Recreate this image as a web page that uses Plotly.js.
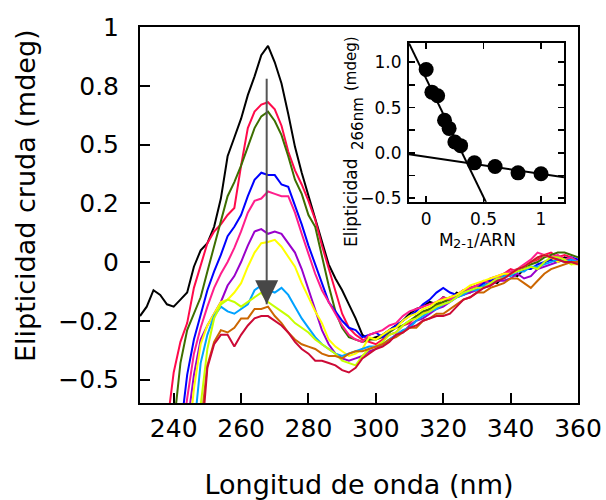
<!DOCTYPE html>
<html><head><meta charset="utf-8">
<script src="https://cdn.plot.ly/plotly-3.0.1.min.js"></script>
<style>html,body{margin:0;padding:0;background:#fff}#chart{width:606px;height:500px}</style>
</head><body><div id="chart"></div>
<script>
// ---- Main CD spectra (wavelength in nm, ellipticity in mdeg) ----
const wavelength = [230,232,234,236,238,240,242,244,246,248,250,252,254,256,258,260,262,264,266,268,270,272,274,276,278,280,282,284,286,288,290,292,294,296,298,300,302,304,306,308,310,312,314,316,318,320,322,324,326,328,330,332,334,336,338,340,342,344,346,348,350,352,354,356,358,360];

const specBlack = [-0.23,-0.19,-0.12,-0.14,-0.18,-0.19,-0.16,-0.13,-0.02,0.05,0.08,0.15,0.27,0.45,0.53,0.61,0.71,0.79,0.88,0.92,0.85,0.76,0.63,0.49,0.38,0.28,0.19,0.08,-0.01,-0.07,-0.12,-0.18,-0.24,-0.31,-0.33,-0.32,-0.31,-0.29,-0.27,-0.25,-0.22,-0.20,-0.19,-0.17,-0.18,-0.15,-0.16,-0.13,-0.14,-0.11,-0.10,-0.11,-0.08,-0.09,-0.06,-0.05,-0.06,-0.03,-0.02,-0.03,0.0,0.01,0.0,0.02,0.01,0.0];
const specRed = [null,null,null,null,-0.70,-0.47,-0.34,-0.26,-0.11,-0.02,0.08,0.13,0.16,0.20,0.23,0.41,0.57,0.64,0.67,0.68,0.65,0.58,0.47,0.39,0.33,0.26,0.18,0.07,-0.03,-0.13,-0.22,-0.28,-0.31,-0.33,-0.34,-0.35,-0.33,-0.31,-0.30,-0.27,-0.26,-0.23,-0.22,-0.20,-0.19,-0.17,-0.15,-0.14,-0.12,-0.12,-0.10,-0.09,-0.07,-0.06,-0.05,-0.03,-0.04,-0.02,0.0,0.01,0.03,0.04,0.02,0.03,0.02,0.0];
const specGreen = [null,null,null,null,null,-0.70,-0.43,-0.29,-0.22,-0.15,-0.04,0.07,0.18,0.28,0.34,0.41,0.49,0.57,0.62,0.64,0.60,0.54,0.45,0.35,0.29,0.20,0.15,0.02,-0.10,-0.21,-0.28,-0.32,-0.33,-0.34,-0.33,-0.33,-0.32,-0.30,-0.28,-0.27,-0.25,-0.23,-0.21,-0.20,-0.18,-0.17,-0.16,-0.14,-0.13,-0.13,-0.11,-0.10,-0.09,-0.08,-0.06,-0.05,-0.04,-0.02,-0.01,0.0,0.02,0.03,0.04,0.04,0.03,0.02];
const specBlue = [null,null,null,null,null,null,-0.72,-0.48,-0.33,-0.22,-0.12,-0.04,0.03,0.11,0.15,0.20,0.28,0.35,0.38,0.37,0.37,0.33,0.32,0.24,0.16,0.07,-0.01,-0.09,-0.17,-0.21,-0.25,-0.28,-0.29,-0.32,-0.31,-0.30,-0.32,-0.29,-0.27,-0.25,-0.23,-0.21,-0.18,-0.16,-0.13,-0.11,-0.13,-0.14,-0.13,-0.12,-0.11,-0.09,-0.08,-0.07,-0.07,-0.05,-0.04,-0.03,-0.03,-0.01,0.0,0.01,0.02,0.01,0.02,0.01];
const specPink = [null,null,null,null,null,null,-0.80,-0.58,-0.39,-0.28,-0.19,-0.11,-0.05,0.0,0.06,0.13,0.21,0.26,0.27,0.30,0.29,0.28,0.28,0.21,0.12,0.03,-0.05,-0.12,-0.17,-0.22,-0.27,-0.31,-0.33,-0.34,-0.31,-0.30,-0.29,-0.27,-0.26,-0.23,-0.21,-0.20,-0.19,-0.18,-0.17,-0.15,-0.16,-0.14,-0.12,-0.11,-0.10,-0.08,-0.09,-0.07,-0.05,-0.04,-0.03,-0.01,0.01,0.04,0.03,0.02,0.03,0.01,0.02,0.0];
const specPurple = [null,null,null,null,null,null,null,-0.70,-0.48,-0.33,-0.27,-0.22,-0.17,-0.10,-0.06,0.0,0.07,0.13,0.14,0.12,0.13,0.12,0.08,0.04,-0.03,-0.12,-0.21,-0.29,-0.35,-0.39,-0.41,-0.42,-0.41,-0.40,-0.38,-0.37,-0.35,-0.33,-0.31,-0.30,-0.27,-0.25,-0.24,-0.22,-0.20,-0.19,-0.17,-0.15,-0.14,-0.13,-0.12,-0.11,-0.10,-0.08,-0.08,-0.07,-0.05,-0.07,-0.06,-0.03,-0.02,-0.01,0.0,0.01,0.0,0.0];
const specYellow = [null,null,null,null,null,null,null,-0.82,-0.54,-0.35,-0.27,-0.22,-0.17,-0.16,-0.13,-0.09,-0.02,0.04,0.08,0.085,0.094,0.065,0.023,-0.02,-0.09,-0.15,-0.21,-0.26,-0.33,-0.36,-0.38,-0.40,-0.39,-0.37,-0.32,-0.33,-0.31,-0.29,-0.28,-0.25,-0.23,-0.22,-0.20,-0.19,-0.17,-0.16,-0.15,-0.14,-0.12,-0.10,-0.09,-0.08,-0.07,-0.06,-0.05,-0.05,-0.03,-0.02,0.0,0.02,0.03,0.02,0.0,0.01,-0.01,-0.01];
const specLightBlue = [null,null,null,null,null,null,null,null,-0.72,-0.43,-0.31,-0.23,-0.19,-0.21,-0.22,-0.20,-0.18,-0.12,-0.10,-0.12,-0.13,-0.11,-0.14,-0.19,-0.24,-0.28,-0.32,-0.35,-0.37,-0.39,-0.40,-0.39,-0.38,-0.37,-0.36,-0.36,-0.35,-0.33,-0.31,-0.29,-0.28,-0.25,-0.23,-0.21,-0.20,-0.18,-0.17,-0.15,-0.14,-0.12,-0.12,-0.10,-0.09,-0.08,-0.06,-0.06,-0.04,-0.04,-0.02,-0.02,-0.01,0.0,0.01,0.0,0.01,0.0];
const specYellowGreen = [null,null,null,null,null,null,null,null,-0.85,-0.62,-0.37,-0.24,-0.18,-0.16,-0.17,-0.19,-0.17,-0.15,-0.13,-0.17,-0.19,-0.21,-0.23,-0.26,-0.28,-0.30,-0.33,-0.35,-0.37,-0.39,-0.42,-0.43,-0.44,-0.40,-0.37,-0.36,-0.34,-0.31,-0.30,-0.27,-0.25,-0.24,-0.22,-0.21,-0.19,-0.18,-0.17,-0.15,-0.13,-0.12,-0.11,-0.11,-0.09,-0.07,-0.07,-0.05,-0.04,-0.03,-0.02,-0.03,0.0,0.02,0.02,0.01,-0.01,0.0];
const specOrange = [null,null,null,null,null,null,null,null,null,-0.70,-0.44,-0.34,-0.29,-0.30,-0.28,-0.24,-0.24,-0.20,-0.20,-0.19,-0.23,-0.26,-0.30,-0.33,-0.35,-0.36,-0.37,-0.39,-0.40,-0.40,-0.41,-0.39,-0.38,-0.38,-0.37,-0.36,-0.35,-0.33,-0.32,-0.30,-0.28,-0.28,-0.25,-0.24,-0.22,-0.22,-0.20,-0.18,-0.16,-0.15,-0.13,-0.13,-0.11,-0.10,-0.09,-0.07,-0.07,-0.09,-0.11,-0.08,-0.05,-0.03,-0.02,-0.01,0.0,0.0];
const specCrimson = [null,null,null,null,null,null,null,null,null,-0.80,-0.45,-0.35,-0.31,-0.31,-0.36,-0.31,-0.27,-0.24,-0.23,-0.23,-0.25,-0.27,-0.30,-0.34,-0.37,-0.39,-0.42,-0.42,-0.43,-0.44,-0.46,-0.47,-0.45,-0.41,-0.39,-0.37,-0.36,-0.34,-0.31,-0.30,-0.28,-0.27,-0.25,-0.24,-0.23,-0.23,-0.22,-0.19,-0.16,-0.15,-0.13,-0.11,-0.10,-0.08,-0.07,-0.05,-0.03,-0.02,0.0,0.02,0.03,0.02,0.01,0.0,0.0,-0.01];

const spectra = [specBlack, specRed, specGreen, specBlue, specPink, specPurple, specYellow, specLightBlue, specYellowGreen, specOrange, specCrimson];
const spectraColors = ['#000000','#ff0a4a','#3d6e00','#0000ff','#ff1e8c','#9900cc','#ffff00','#00a2ff','#c6ff00','#cc6600','#cc0a36'];

// ---- Inset: ellipticity at 266 nm vs M2-1/ARN ratio ----
const insetRatio = [0, 0.05, 0.10, 0.16, 0.20, 0.25, 0.30, 0.42, 0.60, 0.80, 1.0];
const insetEllipticity = [0.92, 0.67, 0.63, 0.36, 0.27, 0.12, 0.08, -0.11, -0.15, -0.22, -0.23];
const fitSteepX = [-0.15, 0.55];
const fitSteepY = [1.21, -0.62];
const fitShallowX = [-0.15, 1.2];
const fitShallowY = [-0.015, -0.268];

// ---- Axis ticks ----
const xTickVals = [240, 260, 280, 300, 320, 340, 360];
const yTickVals = [-0.5, -0.25, 0, 0.25, 0.5, 0.75, 1];
const yTickText = ['\u22120.5', '\u22120.2', '0', '0.2', '0.5', '0.8', '1'];
const insetXTickVals = [0, 0.5, 1];
const insetXTickText = ['0', '0.5', '1'];
const insetYTickVals = [-0.5, 0, 0.5, 1];
const insetYMinor = [-0.25, 0.25, 0.75];

// ---- Arrow (titration direction) ----
const arrowWavelength = 267.6;
const arrowStart = 0.78;
const arrowEnd = -0.18;

const FONT = '"DejaVu Sans", "Liberation Sans", Arial, sans-serif';

const traces = spectra.map((s, i) => ({
  x: wavelength, y: s, type: 'scatter', mode: 'lines',
  line: {color: spectraColors[i], width: 2}, hoverinfo: 'skip',
  xaxis: 'x', yaxis: 'y'
}));
traces.push({x: fitSteepX, y: fitSteepY, type: 'scatter', mode: 'lines', line: {color: '#000', width: 2}, xaxis: 'x2', yaxis: 'y2'});
traces.push({x: fitShallowX, y: fitShallowY, type: 'scatter', mode: 'lines', line: {color: '#000', width: 2}, xaxis: 'x2', yaxis: 'y2'});
traces.push({x: insetRatio, y: insetEllipticity, type: 'scatter', mode: 'markers', marker: {color: '#000', size: 15}, xaxis: 'x2', yaxis: 'y2', cliponaxis: false});

const axBase = {
  showline: true, linewidth: 2, linecolor: '#000', showgrid: false, zeroline: false,
  ticks: 'inside', tickcolor: '#000'
};

const layout = {
  width: 606, height: 500,
  margin: {l: 140, r: 28, t: 27, b: 97},
  paper_bgcolor: '#fff', plot_bgcolor: 'rgba(0,0,0,0)',
  showlegend: false,
  font: {family: FONT, color: '#000', size: 24},
  xaxis: Object.assign({}, axBase, {
    domain: [0, 1], anchor: 'y', range: [230, 360], tickvals: xTickVals,
    ticklen: 10, tickwidth: 2, mirror: true, tickfont: {size: 25},
    ticklabelstandoff: 2,
    title: {text: 'Longitud de onda (nm)', font: {size: 27}, standoff: 35}
  }),
  yaxis: Object.assign({}, axBase, {
    domain: [0, 1], anchor: 'x', range: [-0.6, 1.0001], tickvals: yTickVals, ticktext: yTickText,
    ticklen: 10, tickwidth: 2, mirror: true, tickfont: {size: 25},
    ticklabelstandoff: 14
  }),
  xaxis2: Object.assign({}, axBase, {
    domain: [0.614, 0.968], anchor: 'y2', range: [-0.15, 1.2],
    tickvals: insetXTickVals, ticktext: insetXTickText,
    ticklen: 6, tickwidth: 1.5, mirror: 'ticks', tickfont: {size: 17}, ticklabelstandoff: 1
  }),
  yaxis2: Object.assign({}, axBase, {
    domain: [0.535, 0.957], anchor: 'x2', range: [-0.54, 1.21],
    tickvals: insetYTickVals, tickformat: '.1f',
    ticklen: 6, tickwidth: 1.5, mirror: 'ticks', tickfont: {size: 17}, ticklabelstandoff: 2,
    minor: {tickvals: insetYMinor, ticks: 'inside', ticklen: 6, tickwidth: 1.5, tickcolor: '#000', showgrid: false}
  }),
  shapes: [
    {type: 'line', xref: 'x', yref: 'y', x0: arrowWavelength, x1: arrowWavelength, y0: arrowStart, y1: arrowEnd,
     line: {color: '#555555', width: 2}, layer: 'above'},
    {type: 'path', xref: 'x', yref: 'y', xsizemode: 'pixel', ysizemode: 'pixel',
     xanchor: arrowWavelength, yanchor: arrowEnd, path: 'M-11.5,24 L11.5,24 L0,0 Z',
     fillcolor: '#474747', line: {width: 0}, layer: 'above'}
  ],
  annotations: [
    {text: 'Elipticidad cruda (mdeg)', xref: 'paper', yref: 'paper', x: -0.2626, y: 0.553, textangle: -90,
     showarrow: false, xanchor: 'center', yanchor: 'middle', font: {size: 27}},
    {text: 'M', xref: 'paper', yref: 'paper', x: 0.678, y: 0.4335,
     showarrow: false, xanchor: 'left', yanchor: 'middle', font: {size: 17}},
    {text: '2-1', xref: 'paper', yref: 'paper', x: 0.7101, y: 0.4242,
     showarrow: false, xanchor: 'left', yanchor: 'middle', font: {size: 13}},
    {text: '/ARN', xref: 'paper', yref: 'paper', x: 0.7580, y: 0.4335,
     showarrow: false, xanchor: 'left', yanchor: 'middle', font: {size: 17}},
    {text: 'Elipticidad', xref: 'paper', yref: 'paper', x: 0.4817, y: 0.532, textangle: -90,
     showarrow: false, xanchor: 'center', yanchor: 'middle', font: {size: 17}},
    {text: '266nm', xref: 'paper', yref: 'paper', x: 0.4977, y: 0.7447, textangle: -90,
     showarrow: false, xanchor: 'center', yanchor: 'middle', font: {size: 15}},
    {text: '(mdeg)', xref: 'paper', yref: 'paper', x: 0.4817, y: 0.904, textangle: -90,
     showarrow: false, xanchor: 'center', yanchor: 'middle', font: {size: 15}}
  ]
};

Plotly.newPlot('chart', traces, layout, {staticPlot: true, displayModeBar: false});
</script>
</body></html>
